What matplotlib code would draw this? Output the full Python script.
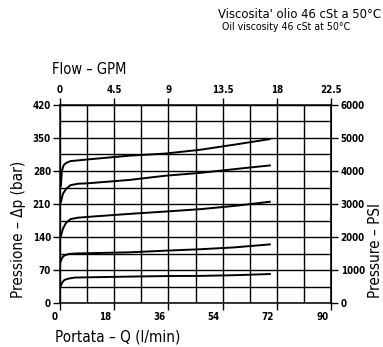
import numpy as np
import matplotlib
matplotlib.use('Agg')
import matplotlib.pyplot as plt
from matplotlib.transforms import ScaledTranslation

plt.rcParams['font.family'] = ['DejaVu Sans']
plt.rcParams['font.stretch'] = 'condensed'

# flow in l/min, pressure in bar
q1 = [0.3, 0.6, 1.2, 2.0, 3.5, 10, 23, 35, 46.5, 58, 70]
p1 = [247, 280, 292, 297, 301, 305, 312.5, 317, 325, 336, 348]
q2 = [0.2, 1.0, 2.0, 3.5, 6, 9.4, 23, 35, 46.5, 58, 70]
p2 = [212, 232, 242, 250, 253, 254, 261, 270, 276, 284, 292]
q3 = [0.1, 1.0, 2.0, 3.5, 6, 10, 23, 35, 46.5, 58, 70]
p3 = [138, 158, 170, 178, 181, 183, 189, 194, 199, 206, 215]
q4 = [0.1, 0.8, 1.5, 3, 5, 23, 35, 46.5, 58, 70]
p4 = [86, 97, 101, 104, 105, 107.5, 111, 114, 118, 124.5]
q5 = [0.1, 0.8, 1.5, 3, 5, 23, 37, 46.5, 58, 70]
p5 = [35, 44, 49, 52, 54, 56, 57.3, 57.5, 59, 61.5]

curves = [(q1, p1), (q2, p2), (q3, p3), (q4, p4), (q5, p5)]

lmin_ticks = [0, 18, 36, 54, 72, 90]
gpm_ticks = [0, 4.5, 9, 13.5, 18, 22.5]
bar_ticks = [0, 70, 140, 210, 280, 350, 420]
psi_ticks = [0, 1000, 2000, 3000, 4000, 5000, 6000]

fig = plt.figure(figsize=(3.83, 3.47), dpi=100)
ax = fig.add_axes([60/383, 44/347, 271/383, 198/347])

for q, p in curves:
    ax.plot(q, p, color='black', lw=1.4, solid_capstyle='butt')

ax.set_xlim(0, 90)
ax.set_ylim(0, 420)
ax.set_xticks(lmin_ticks)
ax.set_xticks(np.arange(0, 91, 9), minor=True)
ax.set_yticks(bar_ticks)
ax.set_yticks(np.arange(0, 421, 35), minor=True)
ax.grid(which='both', color='black', lw=1.0)
ax.tick_params(which='minor', length=0)
ax.tick_params(which='major', length=5, width=1.0, color='black', pad=1.5)
for s in ax.spines.values():
    s.set_linewidth(1.1)

tick_font = dict(fontweight='bold', fontsize=7)
ax.set_xticklabels([f'{t:g}' for t in lmin_ticks], **tick_font)
ax.set_yticklabels([f'{t:g}' for t in bar_ticks], **tick_font)
shift = ScaledTranslation(-2/72, 0, fig.dpi_scale_trans)
for lab in ax.get_xticklabels():
    lab.set_ha('right')
    lab.set_transform(lab.get_transform() + shift)

top = ax.secondary_xaxis('top', functions=(lambda x: x / 4, lambda g: g * 4))
top.set_xticks(gpm_ticks)
top.set_xticklabels([f'{t:g}' for t in gpm_ticks], **tick_font)
top.tick_params(length=5, width=1.0, pad=2)

right = ax.secondary_yaxis('right', functions=(lambda b: b * 6000 / 420,
                                               lambda s: s * 420 / 6000))
right.set_yticks(psi_ticks)
right.set_yticklabels([f'{t:g}' for t in psi_ticks], **tick_font)
right.tick_params(length=5, width=1.0, pad=2)

fig.text(218/383, 1 - 15/347, "Viscosita' olio 46 cSt a 50°C",
         fontsize=9.3, va='center', ha='left')
fig.text(222/383, 1 - 27/347, 'Oil viscosity 46 cSt at 50°C',
         fontsize=7.6, va='center', ha='left')
fig.text(52/383, 1 - 70/347, 'Flow – GPM', fontsize=10.5,
         va='center', ha='left')
fig.text(55/383, 1 - 337/347, 'Portata – Q (l/min)', fontsize=11,
         va='center', ha='left')
fig.text(19/383, 1 - 298/347, 'Pressione – Δp (bar)', fontsize=11,
         rotation=90, va='bottom', ha='center')
fig.text(375/383, 1 - 298/347, 'Pressure – PSI', fontsize=11,
         rotation=90, va='bottom', ha='center')

fig.savefig('out.png', dpi=100)
